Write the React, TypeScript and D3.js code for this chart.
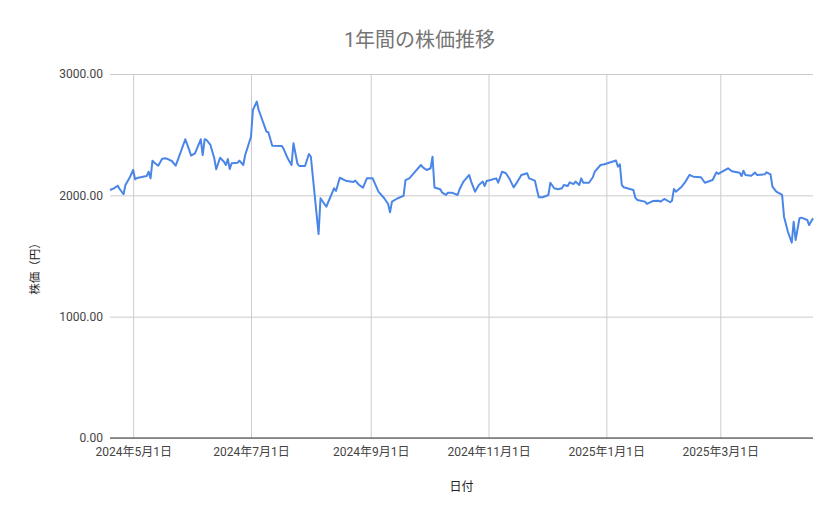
import { useEffect, useRef } from "react";
import { axisBottom, axisLeft, line, scaleLinear, scaleTime, select, timeParse } from "d3";

const dates = [
  "2024-04-19", "2024-04-21", "2024-04-23", "2024-04-24", "2024-04-26", "2024-04-27", "2024-04-29",
  "2024-05-01", "2024-05-02", "2024-05-03", "2024-05-08", "2024-05-09", "2024-05-10", "2024-05-11",
  "2024-05-12", "2024-05-14", "2024-05-16", "2024-05-18", "2024-05-20", "2024-05-21", "2024-05-23",
  "2024-05-24", "2024-05-28", "2024-05-30", "2024-05-31", "2024-06-02", "2024-06-05", "2024-06-06",
  "2024-06-07", "2024-06-08", "2024-06-10", "2024-06-12", "2024-06-13", "2024-06-15", "2024-06-17",
  "2024-06-18", "2024-06-19", "2024-06-20", "2024-06-21", "2024-06-24", "2024-06-25", "2024-06-27",
  "2024-06-28", "2024-07-01", "2024-07-02", "2024-07-04", "2024-07-05", "2024-07-09", "2024-07-10",
  "2024-07-12", "2024-07-17", "2024-07-18", "2024-07-20", "2024-07-22", "2024-07-23", "2024-07-25",
  "2024-07-26", "2024-07-29", "2024-07-31", "2024-08-01", "2024-08-05", "2024-08-06", "2024-08-09",
  "2024-08-13", "2024-08-14", "2024-08-16", "2024-08-19", "2024-08-23", "2024-08-24", "2024-08-26",
  "2024-08-28", "2024-08-30", "2024-09-02", "2024-09-05", "2024-09-08", "2024-09-10", "2024-09-11",
  "2024-09-12", "2024-09-15", "2024-09-18", "2024-09-19", "2024-09-21", "2024-09-24", "2024-09-27",
  "2024-09-28", "2024-09-30", "2024-10-02", "2024-10-03", "2024-10-04", "2024-10-07", "2024-10-08",
  "2024-10-10", "2024-10-11", "2024-10-13", "2024-10-16", "2024-10-17", "2024-10-19", "2024-10-22",
  "2024-10-23", "2024-10-25", "2024-10-27", "2024-10-29", "2024-10-30", "2024-10-31", "2024-11-02",
  "2024-11-05", "2024-11-06", "2024-11-08", "2024-11-10", "2024-11-12", "2024-11-14", "2024-11-16",
  "2024-11-18", "2024-11-21", "2024-11-22", "2024-11-25", "2024-11-27", "2024-11-29", "2024-12-02",
  "2024-12-03", "2024-12-05", "2024-12-07", "2024-12-09", "2024-12-10", "2024-12-12", "2024-12-13",
  "2024-12-15", "2024-12-16", "2024-12-18", "2024-12-19", "2024-12-20", "2024-12-23", "2024-12-25",
  "2024-12-26", "2024-12-29", "2024-12-31", "2025-01-06", "2025-01-07", "2025-01-08", "2025-01-09",
  "2025-01-10", "2025-01-15", "2025-01-16", "2025-01-17", "2025-01-21", "2025-01-22", "2025-01-25",
  "2025-01-28", "2025-01-29", "2025-01-31", "2025-02-03", "2025-02-04", "2025-02-05", "2025-02-06",
  "2025-02-09", "2025-02-11", "2025-02-13", "2025-02-15", "2025-02-19", "2025-02-21", "2025-02-25",
  "2025-02-27", "2025-02-28", "2025-03-02", "2025-03-05", "2025-03-07", "2025-03-11", "2025-03-12",
  "2025-03-13", "2025-03-14", "2025-03-17", "2025-03-19", "2025-03-20", "2025-03-24", "2025-03-25",
  "2025-03-27", "2025-03-28", "2025-03-30", "2025-04-02", "2025-04-03", "2025-04-05", "2025-04-07",
  "2025-04-08", "2025-04-09", "2025-04-11", "2025-04-12", "2025-04-15", "2025-04-16", "2025-04-18",
];

const prices = [
  2044, 2058, 2079, 2052, 2009, 2085, 2140,
  2209, 2132, 2143, 2159, 2195, 2140, 2286,
  2269, 2244, 2302, 2305, 2291, 2283, 2244,
  2286, 2462, 2374, 2327, 2346, 2462, 2332,
  2462, 2456, 2415, 2305, 2215, 2310, 2277,
  2250, 2299, 2217, 2264, 2269, 2286, 2250,
  2332, 2483, 2703, 2772, 2703, 2525, 2520,
  2409, 2407, 2379, 2305, 2250, 2429, 2264,
  2242, 2242, 2341, 2318, 1681, 1976, 1906,
  2058, 2036, 2145, 2121, 2110, 2121, 2085,
  2063, 2140, 2140, 2030, 1976, 1929, 1860,
  1948, 1976, 1995, 2126, 2140, 2195, 2250,
  2231, 2209, 2223, 2318, 2065, 2050, 2022,
  2003, 2022, 2022, 2003, 2050, 2113, 2168,
  2113, 2030, 2085, 2113, 2077, 2118, 2126,
  2140, 2104, 2195, 2182, 2132, 2066, 2113,
  2168, 2182, 2140, 2121, 1984, 1984, 2003,
  2104, 2058, 2050, 2058, 2085, 2077, 2107,
  2093, 2113, 2085, 2140, 2104, 2104, 2149,
  2195, 2250, 2256, 2287, 2236, 2256, 2085,
  2066, 2044, 1981, 1962, 1948, 1929, 1953,
  1956, 1948, 1970, 1943, 1956, 2052, 2030,
  2071, 2113, 2168, 2154, 2149, 2104, 2126,
  2190, 2176, 2195, 2223, 2198, 2187, 2159,
  2203, 2168, 2162, 2187, 2168, 2173, 2190,
  2173, 2071, 2030, 2003, 1824, 1700, 1610,
  1783, 1632, 1811, 1816, 1797, 1755, 1811,
];

const xTicks = ["2024-05-01", "2024-07-01", "2024-09-01", "2024-11-01", "2025-01-01", "2025-03-01"];
const xTickLabels = ["2024年5月1日", "2024年7月1日", "2024年9月1日", "2024年11月1日", "2025年1月1日", "2025年3月1日"];
const yTicks = [0, 1000, 2000, 3000];

const W = 839;
const H = 519;
const FONT = "Roboto, 'Noto Sans CJK JP', sans-serif";

export default function App() {
  const svgRef = useRef<SVGSVGElement>(null);

  useEffect(() => {
    const svg = select(svgRef.current);
    svg.selectAll("*").remove();
    const parse = timeParse("%Y-%m-%d");
    const pts = dates.map((d, i) => ({ date: parse(d) as Date, v: prices[i] }));

    const left = 110, right = 813, top = 74, bottom = 438;
    const x = scaleTime()
      .domain([pts[0].date, pts[pts.length - 1].date])
      .range([left, right]);
    const y = scaleLinear().domain([0, 3000]).range([bottom, top]);

    // grid + y labels
    const yAxis = axisLeft(y)
      .tickValues(yTicks)
      .tickSize(-(right - left))
      .tickPadding(7)
      .tickFormat((d: any) => Number(d).toFixed(2));
    const gy = svg.append("g").attr("transform", `translate(${left},0)`).call(yAxis);
    gy.select(".domain").remove();
    gy.selectAll(".tick line").attr("stroke", "#cccccc");
    gy.selectAll(".tick text")
      .attr("fill", "#444444")
      .attr("font-size", 12)
      .attr("font-family", FONT);

    const xTickDates = xTicks.map((d) => parse(d) as Date);
    const xAxis = axisBottom(x)
      .tickValues(xTickDates)
      .tickSize(-(bottom - top))
      .tickPadding(9)
      .tickFormat((_d: any, i: number) => xTickLabels[i]);
    const gx = svg.append("g").attr("transform", `translate(0,${bottom})`).call(xAxis);
    gx.select(".domain").remove();
    gx.selectAll(".tick line").attr("stroke", "#cccccc");
    gx.selectAll(".tick text")
      .attr("fill", "#444444")
      .attr("font-size", 12)
      .attr("font-family", FONT);

    // zero baseline
    svg.append("line")
      .attr("x1", left).attr("x2", right)
      .attr("y1", y(0)).attr("y2", y(0))
      .attr("stroke", "#333333").attr("stroke-width", 1);

    const path = line<{ date: Date; v: number }>()
      .x((d) => x(d.date))
      .y((d) => y(d.v));
    svg.append("path")
      .datum(pts)
      .attr("d", path)
      .attr("fill", "none")
      .attr("stroke", "#4a86e8")
      .attr("stroke-width", 2)
      .attr("stroke-linejoin", "round");

    svg.append("text")
      .attr("x", W / 2).attr("y", 47)
      .attr("text-anchor", "middle")
      .attr("font-size", 20)
      .attr("font-family", FONT)
      .attr("fill", "#757575")
      .text("1年間の株価推移");

    svg.append("text")
      .attr("x", (left + right) / 2).attr("y", 491)
      .attr("text-anchor", "middle")
      .attr("font-size", 12)
      .attr("font-family", FONT)
      .attr("fill", "#222222")
      .text("日付");

    svg.append("text")
      .attr("transform", `translate(39,266) rotate(-90)`)
      .attr("text-anchor", "middle")
      .attr("font-size", 11.5)
      .attr("font-family", FONT)
      .attr("fill", "#222222")
      .text("株価（円）");
  }, []);

  return (
    <svg
      ref={svgRef}
      width={W}
      height={H}
      style={{ position: "absolute", left: 0, top: 0, background: "#ffffff" }}
    />
  );
}
